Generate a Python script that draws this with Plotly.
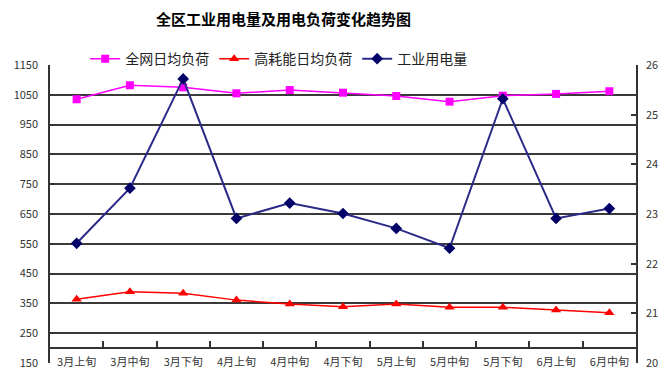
import plotly.graph_objects as go

categories = ["3月上旬", "3月中旬", "3月下旬", "4月上旬", "4月中旬", "4月下旬",
              "5月上旬", "5月中旬", "5月下旬", "6月上旬", "6月中旬"]
grid_load = [1035, 1082, 1075, 1055, 1066, 1057, 1046, 1027, 1047, 1053, 1062]
high_energy_load = [364, 389, 384, 361, 348, 339, 348, 337, 337, 328, 319]
industrial_power = [22.41, 23.52, 25.72, 22.91, 23.22, 23.01, 22.71, 22.31, 25.32, 22.91, 23.11]

left_ticks = [150, 250, 350, 450, 550, 650, 750, 850, 950, 1050, 1150]
grid_ticks = [250, 350, 450, 550, 650, 750, 850, 950, 1050]
right_ticks = [20, 21, 22, 23, 24, 25, 26]

FONT = "Noto Sans CJK SC, Liberation Sans, sans-serif"

fig = go.Figure()

fig.add_trace(go.Scatter(
    x=categories, y=grid_load, name="全网日均负荷", mode="lines+markers",
    line=dict(color="#FF00FF", width=1.5),
    marker=dict(symbol="square", size=8, color="#FF00FF"),
    xaxis="x", yaxis="y"))
fig.add_trace(go.Scatter(
    x=categories, y=high_energy_load, name="高耗能日均负荷", mode="lines+markers",
    line=dict(color="#FF0000", width=1.5),
    marker=dict(symbol="triangle-up", size=9, color="#FF0000"),
    xaxis="x", yaxis="y"))
fig.add_trace(go.Scatter(
    x=categories, y=industrial_power, name="工业用电量", mode="lines+markers",
    line=dict(color="#2A2A88", width=2),
    marker=dict(symbol="diamond", size=9, color="#000066"),
    xaxis="x", yaxis="y2"))

fig.update_layout(
    width=672, height=379,
    margin=dict(l=42, r=44, t=57, b=24, autoexpand=False),
    paper_bgcolor="white", plot_bgcolor="white",
    font=dict(family=FONT, size=11, color="#333333"),
    title=dict(text="<b>全区工业用电量及用电负荷变化趋势图</b>",
               x=0.41, xanchor="center", y=0.968, yanchor="middle",
               font=dict(family=FONT, size=15, color="#000000")),
    showlegend=True,
    legend=dict(orientation="h", x=0.06, xanchor="left", y=1.02, yanchor="middle",
                font=dict(family=FONT, size=14, color="#222222"),
                bgcolor="rgba(0,0,0,0)", itemwidth=30, tracegroupgap=0),
    xaxis=dict(type="category", anchor="free", position=0.05, automargin=False,
               domain=[0, 1], showline=True, linecolor="#333333", linewidth=1.5,
               ticks="inside", ticklen=6, tickcolor="#333333", tickwidth=1.5,
               tickson="boundaries", showgrid=False, zeroline=False,
               tickfont=dict(family=FONT, size=11, color="#333333"),
               ticklabelstandoff=4,
               range=[-0.5, 10.5]),
    yaxis=dict(range=[150, 1150], tickvals=left_ticks, showgrid=False, automargin=False,
               showline=True, linecolor="#333333", linewidth=1.5,
               ticks="inside", ticklen=5, tickcolor="#333333", tickwidth=1.5,
               zeroline=False, tickfont=dict(size=11, color="#333333"),
               ticklabelstandoff=8),
    yaxis2=dict(range=[20, 26], tickvals=right_ticks, overlaying="y", side="right",
                anchor="x", showgrid=False, showline=True, linecolor="#333333",
                automargin=False,
                linewidth=1.5, ticks="inside", ticklen=5, tickcolor="#333333",
                tickwidth=1.5, zeroline=False,
                tickfont=dict(size=11, color="#333333"), ticklabelstandoff=6),
    yaxis3=dict(range=[150, 1150], tickvals=grid_ticks, overlaying="y", automargin=False,
                showgrid=True, gridcolor="#3a3a3a", gridwidth=1.5,
                showticklabels=False, showline=False, zeroline=False, ticks=""),
)

# invisible trace to activate grid axis
fig.add_trace(go.Scatter(x=[categories[0]], y=[None], yaxis="y3", xaxis="x",
                         showlegend=False, hoverinfo="skip", mode="markers"))

fig.write_html("out.html")
